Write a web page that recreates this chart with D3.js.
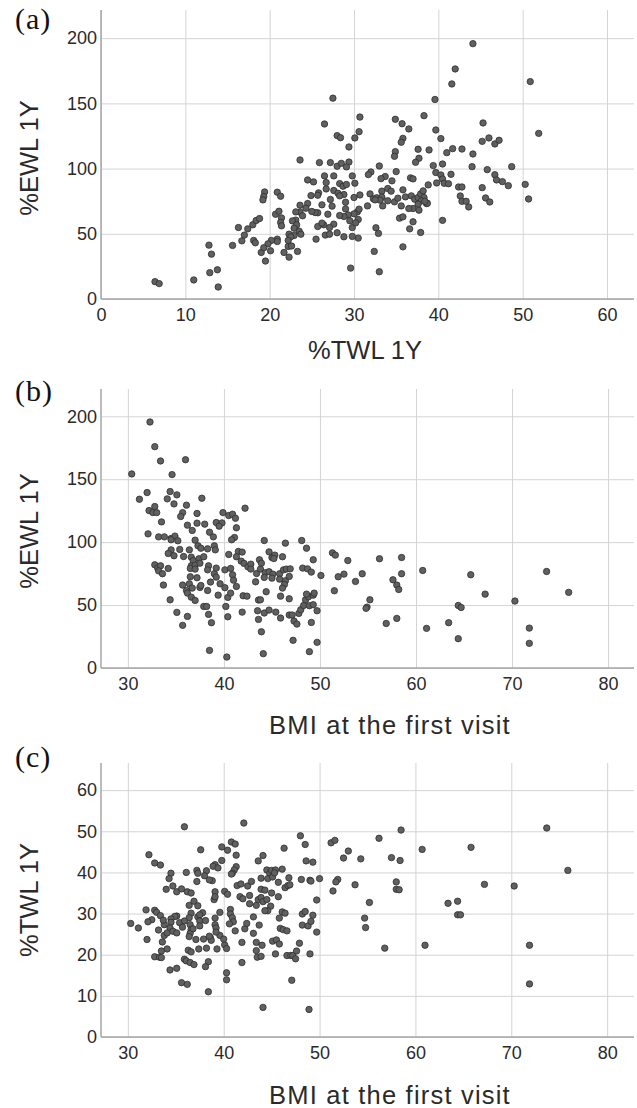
<!DOCTYPE html>
<html>
<head>
<meta charset="utf-8">
<script src="https://cdn.jsdelivr.net/npm/d3@7"></script>
<style>
  body { margin: 0; background: #fff; }
  .tick text { font-family: "Liberation Sans", Arial, sans-serif; font-size: 18px; fill: #2a2a2a; }
  .tick line { stroke: #d4d4d4; stroke-width: 1; }
  .axis-title { font-family: "Liberation Sans", Arial, sans-serif; font-size: 25.5px; fill: #2a2a2a; }
  .panel-label { font-family: "Liberation Serif", "Times New Roman", serif; font-size: 30px; fill: #111; letter-spacing: 1px; }
</style>
</head>
<body>
<svg id="chart" width="637" height="1108"></svg>
<script>
"use strict";

// tick labels
var yTicksEWL = [0, 50, 100, 150, 200],
  yTicksTWL = [0, 10, 20, 30, 40, 50, 60],
  xTicksTWL = [0, 10, 20, 30, 40, 50, 60],
  xTicksBMI = [30, 40, 50, 60, 70, 80];

// (a) [%TWL 1Y, %EWL 1Y]
var panelA = [
  [27.5,154],[39.6,153],[26.5,134.2],[30.7,139.5],[30.6,128.3],[30.1,123.5],[28.0,125.3],[28.4,123.7],[29.4,116.6],
  [34.9,137.8],[35.7,134.4],[36.5,130.4],[38.3,140.6],[39.7,129.6],[35.8,123.2],[35.6,120.2],[34.9,113],[34.8,109.4],
  [37.6,114.8],[38.9,114.3],[37.7,107.9],[37.3,104.8],[39.4,102.3],[39.7,97],[39.8,89],[38.8,87.5],[23.6,106.6],
  [25.9,104.6],[27.2,104.6],[28.0,101.8],[28.5,104],[29.4,105],[29.1,101.3],[33.0,102],[32.0,97.4],[31.7,95.4],
  [33.7,93.9],[33.2,92.3],[35.0,97.7],[34.5,90.6],[36.7,92.9],[37.0,92.1],[26.5,94.4],[27.6,94.4],[29.8,94.4],
  [24.5,91.3],[25.2,89.8],[26.7,89.3],[28.3,88.5],[28.7,86.5],[29.1,87.8],[30.1,88.8],[26.7,84.4],[27.6,83.2],
  [28.1,81.1],[28.8,80.1],[28.3,79.1],[24.9,79.3],[25.8,81.4],[25.7,79.6],[27.2,76.3],[30.0,77.8],[30.7,79.8],
  [31.9,80.6],[32.3,76.8],[32.7,77.6],[33.3,82.7],[33.3,78.1],[34.0,84.7],[34.4,82.7],[34.8,74.5],[35.2,77.3],
  [35.8,83.7],[36.1,78.3],[36.8,79.1],[37.2,76.5],[37.6,77.8],[37.9,80.6],[38.2,82.9],[38.3,77.8],[38.6,73.2],
  [38.0,75.3],[37.6,72.7],[37.0,69.4],[36.5,69.4],[35.6,71.4],[34.0,75.3],[33.4,71.4],[33.1,75.8],[32.5,76],
  [31.6,71.4],[37.7,68.1],[37.0,59.2],[35.4,62],[35.8,63],[36.6,53.8],[37.9,51],[35.8,40],[32.6,54.6],
  [32.9,50.3],[32.4,36.5],[33.0,20.9],[29.6,23.7],[30.5,46.7],[29.8,48],[28.8,47.7],[28.0,50.8],[29.8,54.8],
  [30.5,61],[30.2,58.4],[30.4,66.8],[30.0,65.3],[30.6,68.9],[29.3,64.5],[29.5,60],[29.0,69.1],[28.8,63.3],
  [28.3,64],[29.0,74.2],[27.4,71.2],[26.9,65],[27.6,57.4],[27.1,54.8],[26.4,56.9],[26.6,49],[27.1,49.7],
  [25.7,55.6],[26.2,58.2],[25.7,66.1],[25.4,66.3],[26.2,72.2],[24.5,73.2],[25.0,67.1],[24.3,69.6],[23.6,71.9],
  [23.6,66.6],[23.1,66.8],[23.9,63.8],[23.1,60.5],[22.7,59.9],[23.2,56.9],[22.9,54.3],[23.5,52],[23.7,49.7],
  [22.9,48.7],[22.3,49.7],[22.5,47.7],[25.5,45.9],[23.3,36.5],[22.2,40.3],[22.6,40.6],[22.2,44.9],[21.7,35.7],
  [22.3,32.1],[20.9,45.9],[20.9,44.1],[20.2,44.9],[19.8,42.3],[20.1,37],[19.5,29.1],[19.0,35.7],[19.3,39.3],
  [18.1,44.9],[18.3,43.1],[16.7,44.6],[17.0,49],[16.3,54.8],[17.4,53.8],[18.0,56.9],[18.4,60.2],[18.8,61.7],
  [15.6,41.1],[19.4,82.1],[19.3,78.6],[19.2,76],[20.9,81.9],[21.3,78.8],[20.7,65],[21.1,67.3],[21.4,62.2],
  [21.3,58.7],[21.4,56.1],[12.8,41.3],[13.1,34.4],[12.9,20.2],[13.8,22.4],[13.9,9.2],[6.4,13.3],[6.9,11.8],
  [11.0,14.6],[44.1,195.8],[42.0,176.4],[41.6,164.9],[50.9,166.7],[51.9,127],[45.3,135],[45.2,120.9],[46.0,123.5],
  [46.7,118.9],[47.2,121.7],[40.3,123],[41.0,112.2],[41.7,115.3],[42.8,115],[44.1,111.2],[44.0,101.5],[40.5,103.5],
  [40.3,95.1],[40.5,92],[40.7,88.7],[41.2,88.4],[41.5,95.6],[42.4,85.9],[42.8,85.9],[42.6,79],[42.8,74.9],
  [43.3,74.9],[43.6,70.6],[40.5,60.3],[45.2,85.4],[45.6,77.5],[46.1,74.4],[45.8,99.2],[46.7,95.3],[46.9,91.3],
  [47.6,90],[48.3,86.9],[48.7,101.5],[50.3,87.9],[50.7,76.7],[38.7,73.4],[38.4,74.9]
];

// (b) [BMI at the first visit, %EWL 1Y]
var panelB = [
  [33.4,164.5],[36.0,165.5],[30.4,154.2],[34.6,153.7],[32.0,139.4],[31.2,134.1],[34.4,140.2],[35.1,137.6],[34.1,134.4],
  [34.8,130.4],[36.1,129.4],[37.7,134.9],[32.8,128.3],[32.2,125.1],[32.6,123.5],[33.0,123.5],[33.5,116.1],[35.7,123.5],
  [35.5,120.4],[37.2,122.8],[36.2,113.5],[37.2,115.1],[38.0,114.3],[36.7,109.3],[38.5,107.9],[38.9,104.2],[32.1,106.6],
  [33.2,104.2],[33.8,104.2],[34.5,102.9],[34.9,104.8],[34.5,101.9],[35.2,101.1],[39.9,123.5],[40.5,121.2],[40.9,122.2],
  [41.2,119],[42.2,127],[39.2,115.6],[39.8,115.3],[39.5,112.7],[41.3,111.4],[41.1,103.7],[40.8,101.9],[37.0,101.6],
  [37.3,97.1],[37.6,95.2],[38.3,94.7],[39.0,97.1],[39.1,93.9],[34.5,93.9],[34.2,91],[34.8,89.2],[35.4,94.2],
  [36.4,93.9],[35.8,88.6],[32.8,82],[33.1,79.4],[33.4,81.2],[33.2,77.2],[33.6,74.9],[34.2,79.1],[33.7,65.9],
  [34.4,54.2],[35.1,44.2],[35.7,33.9],[36.2,41],[36.6,88.1],[36.8,85.4],[37.4,86.8],[37.9,88.4],[36.6,81.2],
  [37.0,81.7],[36.5,79.1],[37.0,78.6],[37.5,83.3],[38.4,81.2],[38.3,78],[36.5,72.5],[37.2,71.7],[35.7,65.9],
  [36.4,66.9],[36.1,61.6],[36.2,59.5],[36.6,56.3],[37.0,53.7],[36.7,63.5],[37.5,64],[37.6,65.6],[38.3,61.6],
  [37.9,48.9],[38.2,48.9],[38.4,42.6],[38.7,36],[38.5,14],[38.6,68.3],[39.4,57.9],[39.0,74.9],[39.2,79.4],
  [39.2,72.2],[39.6,66.9],[40.1,63.8],[40.2,48.9],[40.4,56.1],[40.4,40.7],[40.3,8.7],[40.1,78],[40.5,90.2],
  [40.7,79.1],[40.9,74.1],[41.0,69.8],[41.3,64.8],[40.7,59.5],[41.5,92.6],[41.9,92.1],[41.3,88.4],[41.8,84.9],
  [42.1,83.1],[42.5,80.4],[42.8,82.5],[42.8,78.6],[42.0,57.4],[42.4,57.1],[41.9,44.4],[43.3,68.5],[43.4,75.1],
  [43.8,78.6],[43.7,86],[43.9,83.3],[44.2,101.3],[44.3,75.7],[44.2,72],[44.4,60.6],[43.6,54],[43.8,54.2],
  [43.5,45.5],[43.6,38.6],[43.9,28.8],[44.1,11.4],[44.2,43.7],[44.7,46],[45.4,44.4],[44.7,92.3],[45.0,87.8],
  [45.3,89.7],[45.2,87],[46.1,88.4],[46.4,99.2],[44.7,76.5],[45.1,74.6],[45.0,71.4],[45.8,74.9],[46.2,78],
  [46.5,78.6],[46.9,78.8],[45.8,70.6],[46.4,69.3],[46.8,72.8],[46.3,66.4],[46.1,63.5],[45.9,57.1],[46.8,55],
  [45.9,39.7],[46.8,42.1],[47.1,42.1],[47.3,37.3],[47.6,34.9],[47.2,22],[47.8,43.4],[48.0,46.3],[48.3,49.7],
  [48.5,54.2],[48.8,56.6],[48.6,58.7],[49.3,57.9],[48.9,49.5],[49.3,50.3],[49.4,59.5],[49.7,45.5],[49.1,36.2],
  [49.7,20.4],[48.9,13],[48.1,101.3],[48.6,95.2],[49.3,86],[48.2,79.4],[48.7,78.8],[49.1,76.2],[50.1,73.5],
  [51.3,91.5],[51.6,89.7],[52.5,74.6],[51.9,72.5],[51.5,61.4],[52.9,85.4],[32.3,195.5],[32.8,175.9],[53.7,68.8],
  [54.4,74.9],[55.2,54.2],[54.9,48.4],[54.8,47.4],[56.2,86.8],[56.9,35.4],[57.6,70.1],[58.0,65.9],[58.2,62.4],
  [58.5,87.8],[58.5,74.9],[58.0,39.4],[60.7,77.5],[61.1,31.5],[63.4,36],[64.4,49.7],[64.7,48.1],[64.4,23.3],
  [65.7,74.1],[67.2,58.7],[70.3,53.2],[71.8,31.7],[71.8,19.6],[73.6,76.7],[75.9,60.1]
];

// (c) [BMI at the first visit, %TWL 1Y]
var panelC = [
  [35.9,51.1],[42.1,52],[32.2,44.3],[32.8,42.3],[33.4,41.8],[37.6,45.5],[39.8,46.2],[40.8,47.4],[41.2,46.9],
  [40.4,45.4],[41.3,44.2],[39.8,42.9],[39.1,41.9],[38.9,41.5],[39.4,41.1],[38.2,40.4],[41.3,41.4],[41.1,40.6],
  [40.9,39.8],[40.8,39.6],[38.8,38],[38.5,38.2],[37.2,40.5],[37.3,39.8],[38.0,39.2],[36.1,40],[34.5,39.8],
  [34.3,38.5],[37.2,37.8],[34.0,35.9],[34.7,36.7],[35.1,35.3],[35.6,36],[36.2,35.3],[36.6,35],[39.1,35.3],
  [39.0,33.4],[39.1,34.1],[40.1,35.4],[40.4,34.7],[36.4,32],[36.9,33],[37.3,31.9],[37.8,30.2],[36.6,30.1],
  [36.4,29],[37.3,29.2],[37.5,29.7],[37.5,28.2],[38.1,28.3],[39.1,28.9],[39.1,27.3],[39.6,30.3],[40.7,31],
  [40.7,29.9],[40.9,29],[41.0,28],[40.6,27.5],[35.1,29.4],[34.9,29.3],[34.5,28.7],[34.5,27.9],[35.4,27.8],
  [35.9,28.2],[35.7,26.7],[36.5,27.3],[36.6,26.1],[36.5,25.2],[36.4,24.4],[37.5,27],[36.8,26.3],[38.6,24.2],
  [38.7,23.5],[37.9,23.8],[37.1,23.7],[39.6,24.7],[39.2,26.5],[39.2,25.5],[31.9,30.9],[32.8,30.8],[33.0,30.3],
  [33.4,29.5],[32.5,28.5],[32.1,28],[30.3,27.6],[31.1,26.5],[33.8,27.3],[33.7,28.4],[34.4,26.5],[33.2,26],
  [33.8,24.7],[34.1,25.3],[34.7,25.7],[35.1,25.3],[32.0,23.7],[33.6,23.1],[33.5,20.9],[34.1,21.4],[32.8,19.5],
  [33.3,19.4],[33.5,19.3],[34.4,16.3],[35.1,16.7],[35.9,18.9],[36.1,18.5],[36.5,18.1],[36.9,17.6],[36.3,21.1],
  [36.6,20.7],[37.4,21.4],[38.2,21.6],[39.3,21.4],[38.4,18.3],[38.1,17.1],[35.6,13.2],[36.2,12.8],[38.4,11],
  [40.1,22.4],[40.3,21.5],[40.3,15.6],[40.3,13.9],[38.5,24.5],[40.0,23.8],[41.9,23],[41.9,18.1],[41.2,25.8],
  [42.2,26.3],[42.4,27.6],[43.1,29.2],[43.7,27.2],[41.7,34.1],[42.0,33.6],[41.4,36.8],[41.8,37.2],[42.5,36.7],
  [42.9,37.8],[42.7,34.4],[43.6,42.8],[44.1,44.1],[43.9,38.6],[44.5,40.6],[44.8,39.8],[45.0,40.5],[45.4,40.6],
  [46.1,40.8],[44.6,38.5],[45.1,38.9],[45.3,39.9],[46.3,45.9],[46.8,38.7],[46.4,36.3],[46.7,36.8],[46.9,37],
  [45.7,37.6],[45.0,35],[45.7,34.1],[43.9,35.9],[44.3,35.7],[42.7,32.4],[43.4,32],[43.6,33.4],[43.9,33.9],
  [44.1,32.9],[44.5,33.4],[44.9,31.8],[44.6,30.7],[44.3,30.7],[43.1,25.2],[46.1,30.4],[46.4,30.1],[45.8,28.9],
  [45.9,26.4],[46.2,26.1],[46.6,25.8],[43.4,23],[44.0,22.3],[45.1,23.3],[45.5,23.6],[45.8,22.6],[43.4,21],
  [43.5,19.4],[43.9,19.6],[45.4,20.2],[46.6,19.8],[47.0,19.8],[47.2,19.8],[47.6,20.9],[47.5,19],[47.9,22.8],
  [47.1,13.8],[49.0,20.2],[44.1,7.2],[48.9,6.7],[48.0,48.9],[48.5,46.8],[48.6,42.8],[49.3,42.5],[48.1,38.3],
  [49.0,38.1],[49.1,37.9],[50.0,38.5],[49.7,33.3],[48.2,29.9],[48.5,30.5],[49.3,29.6],[48.2,27.2],[48.8,27],
  [49.1,28.1],[49.7,25.5],[51.2,47.2],[51.6,47.8],[52.5,43.5],[51.9,38.3],[51.7,37.7],[51.4,35.5],[53.0,45.2],
  [54.3,43.3],[56.2,48.3],[58.5,50.3],[57.5,43.6],[58.4,42.9],[60.7,45.6],[65.8,46.1],[73.7,50.8],[75.9,40.5],
  [53.7,37],[58.0,37.7],[58.0,35.9],[58.3,35.8],[55.2,32.7],[54.7,28.9],[54.8,26.6],[56.8,21.6],[61.0,22.3],
  [63.4,32.5],[64.4,33],[64.4,29.7],[64.7,29.7],[67.2,37.1],[70.3,36.7],[71.9,22.3],[71.9,12.9]
];

var svg = d3.select("#chart");

/**
 drawPanel: one scatter panel with grid, axes, titles
**/
function drawPanel(opt) {
  var left = 101,
    right = 634,
    w = right - left,
    h = opt.bottom - opt.top;

  var x = d3.scaleLinear().domain(opt.xDomain).range([0, w]),
    y = d3.scaleLinear().domain(opt.yDomain).range([h, 0]);

  var g = svg.append("g")
    .attr("transform", "translate(" + left + "," + opt.top + ")");

  // horizontal grid + y labels
  g.append("g")
    .attr("class", "y-axis")
    .call(d3.axisLeft(y).tickValues(opt.yTicks).tickSize(-w).tickPadding(4));

  // vertical grid + x labels
  g.append("g")
    .attr("class", "x-axis")
    .attr("transform", "translate(0," + h + ")")
    .call(d3.axisBottom(x).tickValues(opt.xTicks).tickSize(-h).tickPadding(9));

  g.selectAll(".domain").remove();

  // axis lines
  g.append("line")
    .attr("x1", 0).attr("x2", 0)
    .attr("y1", 0).attr("y2", h)
    .attr("stroke", "#a6a6a6")
    .attr("stroke-width", 1.5);

  g.append("line")
    .attr("x1", 0).attr("x2", w)
    .attr("y1", h).attr("y2", h)
    .attr("stroke", "#a6a6a6")
    .attr("stroke-width", 1.5);

  g.selectAll("circle")
    .data(opt.data)
    .enter()
    .append("circle")
    .attr("cx", function (d) { return x(d[0]); })
    .attr("cy", function (d) { return y(d[1]); })
    .attr("r", 3.2)
    .attr("fill", "#606060")
    .attr("stroke", "#2e2e2e")
    .attr("stroke-width", 0.8);

  // titles
  svg.append("text")
    .attr("class", "axis-title")
    .attr("transform", "translate(38," + opt.yTitleY + ") rotate(-90)")
    .attr("text-anchor", "middle")
    .text(opt.yTitle);

  svg.append("text")
    .attr("class", "axis-title")
    .attr("x", opt.xTitleX)
    .attr("y", opt.xTitleBase)
    .attr("text-anchor", "middle")
    .style("letter-spacing", opt.xTitleSpacing || "0px")
    .text(opt.xTitle);

  svg.append("text")
    .attr("class", "panel-label")
    .attr("x", 15)
    .attr("y", opt.labelBase)
    .text(opt.label);
}

drawPanel({
  data: panelA, top: 10, bottom: 299,
  xDomain: [0, 63.2], yDomain: [0, 221.6],
  xTicks: xTicksTWL, yTicks: yTicksEWL,
  yTitle: "%EWL 1Y", yTitleY: 158,
  xTitle: "%TWL 1Y", xTitleX: 365, xTitleBase: 359,
  label: "(a)", labelBase: 29
});

drawPanel({
  data: panelB, top: 389, bottom: 668,
  xDomain: [27.2, 82.7], yDomain: [0, 221.7],
  xTicks: xTicksBMI, yTicks: yTicksEWL,
  yTitle: "%EWL 1Y", yTitleY: 531,
  xTitle: "BMI at the first visit", xTitleX: 390, xTitleBase: 734, xTitleSpacing: "1.2px",
  label: "(b)", labelBase: 401
});

drawPanel({
  data: panelC, top: 763, bottom: 1037,
  xDomain: [27.2, 82.8], yDomain: [0, 66.6],
  xTicks: xTicksBMI, yTicks: yTicksTWL,
  yTitle: "%TWL 1Y", yTitleY: 900,
  xTitle: "BMI at the first visit", xTitleX: 390, xTitleBase: 1104, xTitleSpacing: "1.2px",
  label: "(c)", labelBase: 767
});
</script>
</body>
</html>
